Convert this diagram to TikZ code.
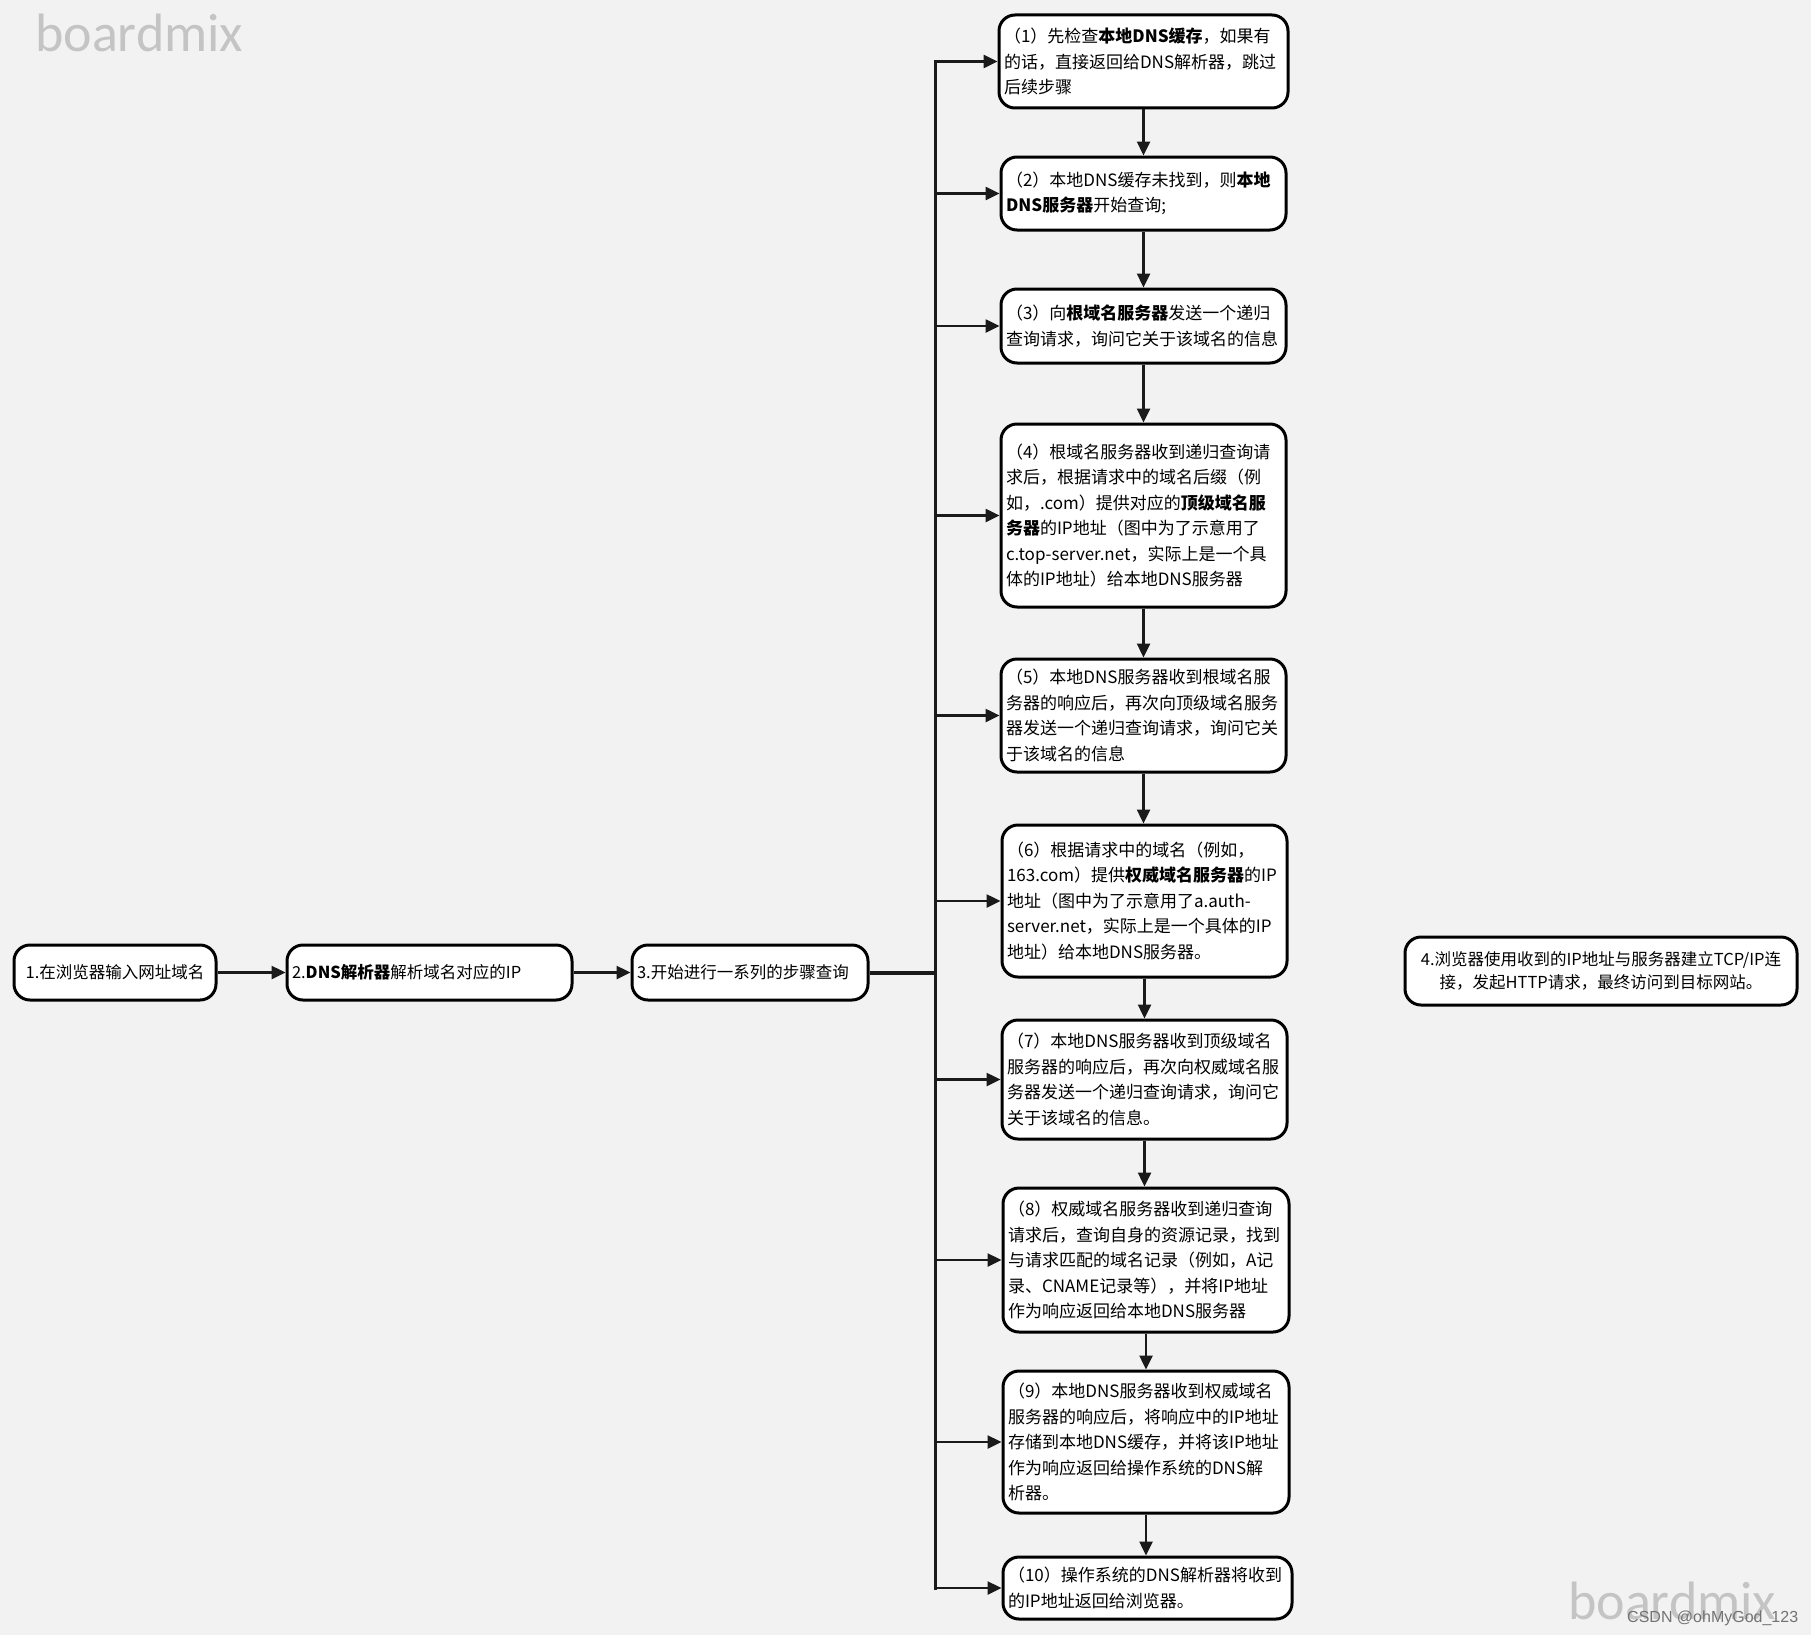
\documentclass[tikz,border=0pt]{standalone}
\usepackage{fontspec}
\setmainfont{Noto Sans CJK SC}
\newfontfamily\wmfont{Carlito}
\newfontfamily\csdnfont{Liberation Sans}
\usetikzlibrary{arrows.meta,positioning}
\definecolor{bgcol}{HTML}{F2F2F2}
\definecolor{wmcol}{HTML}{C4C4C4}
\definecolor{linecol}{HTML}{1A1A1A}
\tikzset{
  box/.style={draw=black, line width=3pt, fill=white, rounded corners=16pt,
    inner xsep=5pt, inner ysep=0pt, align=left,
    font=\fontsize{17pt}{25.5pt}\selectfont},
  colbox/.style={box, text width=#1-10pt},
  rowbox/.style={box, font=\fontsize{16.5pt}{23pt}\selectfont},
  arr/.style={line width=2.5pt, draw=linecol, -{Triangle[length=14pt,width=13pt]}},
  busline/.style={line width=3pt, draw=linecol, line cap=rect},
  wm/.style={anchor=base west, inner sep=0pt, text=wmcol, font=\wmfont\fontsize{54pt}{60pt}\selectfont}
}
\begin{document}
\begin{tikzpicture}[x=1pt,y=-1pt]
\fill[bgcol] (0,0) rectangle (1811,1635);
\useasboundingbox (0,0) rectangle (1811,1635);

% watermarks
\node[wm] (wmtop) at (35,52) {boardmix};
\node[wm] (wmbot) at (1568,1619) {boardmix};

% main row
\node[rowbox, minimum width=202pt, minimum height=55pt, align=center] (s1) at (115,972.5) {1.在浏览器输入网址域名};
\node[rowbox, text width=275pt, minimum height=55pt] (s2) at (429.5,972.5) {2.\textbf{DNS解析器}解析域名对应的IP};
\node[rowbox, text width=226pt, minimum height=55pt] (s3) at (750,972.5) {3.开始进行一系列的步骤查询};
\node[rowbox, minimum width=392pt, minimum height=68pt, align=center] (s4) at (1601,971) {4.浏览器使用收到的IP地址与服务器建立TCP/IP连\\接，发起HTTP请求，最终访问到目标网站。};

% column
\node[colbox=289pt, minimum height=93pt] (q1) at (1143.5,61.5) {（1）先检查\textbf{本地DNS缓存}，如果有\\的话，直接返回给DNS解析器，跳过\\后续步骤};
\node[colbox=285pt, minimum height=73pt] (q2) at (1143.5,193.5) {（2）本地DNS缓存未找到，则\textbf{本地}\\\textbf{DNS服务器}开始查询;};
\node[colbox=285pt, minimum height=74pt] (q3) at (1143.5,326) {（3）向\textbf{根域名服务器}发送一个递归\\查询请求，询问它关于该域名的信息};
\node[colbox=285pt, minimum height=183pt] (q4) at (1143.5,515.5) {（4）根域名服务器收到递归查询请\\求后，根据请求中的域名后缀（例\\如，.com）提供对应的\textbf{顶级域名服}\\\textbf{务器}的IP地址（图中为了示意用了\\c.top-server.net，实际上是一个具\\体的IP地址）给本地DNS服务器};
\node[colbox=285pt, minimum height=113pt] (q5) at (1143.5,715.5) {（5）本地DNS服务器收到根域名服\\务器的响应后，再次向顶级域名服务\\器发送一个递归查询请求，询问它关\\于该域名的信息};
\node[colbox=285pt, minimum height=152pt] (q6) at (1144.5,901) {（6）根据请求中的域名（例如，\\163.com）提供\textbf{权威域名服务器}的IP\\地址（图中为了示意用了a.auth-\\server.net，实际上是一个具体的IP\\地址）给本地DNS服务器。};
\node[colbox=285pt, minimum height=119pt] (q7) at (1144.5,1079.5) {（7）本地DNS服务器收到顶级域名\\服务器的响应后，再次向权威域名服\\务器发送一个递归查询请求，询问它\\关于该域名的信息。};
\node[colbox=286pt, minimum height=144pt] (q8) at (1146,1260) {（8）权威域名服务器收到递归查询\\请求后，查询自身的资源记录，找到\\与请求匹配的域名记录（例如，A记\\录、CNAME记录等），并将IP地址\\作为响应返回给本地DNS服务器};
\node[colbox=286pt, minimum height=142pt] (q9) at (1146,1442) {（9）本地DNS服务器收到权威域名\\服务器的响应后，将响应中的IP地址\\存储到本地DNS缓存，并将该IP地址\\作为响应返回给操作系统的DNS解\\析器。};
\node[colbox=289pt, minimum height=62pt] (q10) at (1147.5,1588) {（10）操作系统的DNS解析器将收到\\的IP地址返回给浏览器。};

% CSDN mark
\node[anchor=base west, inner sep=0pt, text=black!55, font=\csdnfont\fontsize{16pt}{18pt}\selectfont] (csdn) at (1627,1622) {CSDN @ohMyGod\_123};

% row connectors
\draw[arr] (s1.east) -- (s2.west);
\draw[arr] (s2.east) -- (s3.west);
\coordinate (bus) at (935,0);
\draw[line width=4pt, draw=linecol] (s3.east) -- (bus |- s3.east);
\draw[busline] (bus |- q1.west) -- (bus |- q10.west);
\foreach \q in {q1,q2,q3,q4,q5,q6,q7,q8,q9,q10}{
  \draw[arr] (bus |- \q.west) -- (\q.west);
}
% column connectors
\foreach \a/\b in {q1/q2,q2/q3,q3/q4,q4/q5,q5/q6,q6/q7,q7/q8,q8/q9,q9/q10}{
  \draw[arr] (\a.south) -- (\a.south |- \b.north);
}
\end{tikzpicture}
\end{document}
